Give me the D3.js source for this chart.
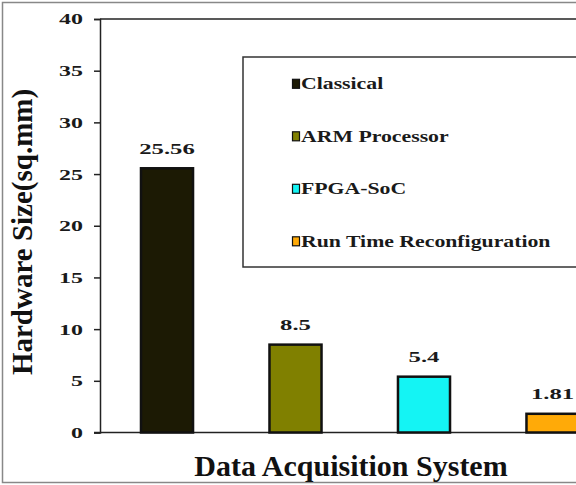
<!DOCTYPE html>
<html><head><meta charset="utf-8">
<script src="https://cdn.jsdelivr.net/npm/d3@7"></script>
<style>#c text, svg#c g text{font-family:"Liberation Serif",Tinos,"Times New Roman",serif !important}</style>
</head><body style="margin:0"><svg id="c" width="576" height="485" style="display:block"></svg>
<script>
const categories = ["Classical","ARM Processor","FPGA-SoC","Run Time Reconfiguration"];
const values = [25.56, 8.5, 5.4, 1.81];
const valueLabels = ["25.56","8.5","5.4","1.81"];
const colors = ["#1c1a04","#808000","#14f4f4","#ffaa08"];
const yTicks = [0,5,10,15,20,25,30,35,40];
const yTitle = "Hardware Size(sq.mm)";
const xTitle = "Data Acquisition System";

const FONT = "'Liberation Serif', Tinos, 'Times New Roman', FreeSerif, serif";
const svg = d3.select("#c");
function font(sel, size){
  return sel.attr("font-family",FONT).attr("font-weight","bold").attr("font-size",size)
    .style("font-family",FONT,"important").style("font-weight","bold","important");
}
// horizontal stretch of text to mimic the reference's wide glyphs
function stretch(sel, k){
  sel.each(function(){ const w=this.getComputedTextLength(); d3.select(this).attr("textLength",w*k).attr("lengthAdjust","spacingAndGlyphs"); });
}

svg.append("rect").attr("x",2.5).attr("y",2.5).attr("width",580).attr("height",480)
  .attr("fill","none").attr("stroke","#888").attr("stroke-width",1.5);

const y = d3.scaleLinear().domain([0,40]).range([432.5,19]);
const x = d3.scaleBand().domain(categories).range([100,619.5]).paddingInner(0.595).paddingOuter(0.319);

svg.append("line").attr("x1",100).attr("x2",580).attr("y1",y(40)).attr("y2",y(40)).attr("stroke","#222").attr("stroke-width",1.5);

const yAxis = svg.append("g").attr("transform","translate(100,0)")
  .call(d3.axisLeft(y).tickValues(yTicks).tickSize(6).tickPadding(11).tickFormat(d3.format("d")));
yAxis.attr("font-family",FONT).attr("font-size",null);
yAxis.select(".domain").attr("stroke","#222").attr("stroke-width",1.5);
yAxis.selectAll(".tick line").attr("stroke","#222").attr("stroke-width",1.5);
const tl = font(yAxis.selectAll(".tick text"),14.5).attr("fill","#1a1a1a").attr("dy","0.34em");

svg.append("line").attr("x1",94).attr("x2",580).attr("y1",y(0)).attr("y2",y(0)).attr("stroke","#222").attr("stroke-width",1.5);

svg.append("rect").attr("x",243).attr("y",57).attr("width",340).attr("height",210)
  .attr("fill","#fff").attr("stroke","#333").attr("stroke-width",1.5);
const lg = svg.append("g");
const legTexts = [];
categories.forEach((c,i)=>{
  const by = 89.3 + i*52.5;
  lg.append("rect").attr("x",292.5).attr("y",by-10).attr("width",7).attr("height",9)
    .attr("fill",colors[i]).attr("stroke","#111").attr("stroke-width",1.2);
  legTexts.push(font(lg.append("text"),16).attr("x",301).attr("y",by).attr("fill","#1a1a1a").text(c));
});

svg.append("g").selectAll("rect").data(values).join("rect")
  .attr("x",(d,i)=>x(categories[i])).attr("width",x.bandwidth())
  .attr("y",d=>y(d)).attr("height",d=>y(0)-y(d))
  .attr("fill",(d,i)=>colors[i]).attr("stroke","#111").attr("stroke-width",2.5);

const vl = font(svg.append("g").selectAll("text").data(values).join("text"),14.5)
  .attr("x",(d,i)=>x(categories[i])+x.bandwidth()/2).attr("y",d=>y(d)-14.5)
  .attr("text-anchor","middle").attr("fill","#1a1a1a").text((d,i)=>valueLabels[i]);

font(svg.append("text"),29).attr("transform","translate(32,232) rotate(-90)").attr("text-anchor","middle")
  .attr("fill","#111").text(yTitle);
font(svg.append("text"),30).attr("x",351).attr("y",476).attr("text-anchor","middle")
  .attr("fill","#111").text(xTitle);

function applyStretch(){
  stretch(tl,1.65);
  legTexts.forEach(t=>stretch(t,1.36));
  stretch(vl,1.7);
}
if (document.fonts && document.fonts.ready) document.fonts.ready.then(applyStretch); else applyStretch();
</script></body></html>
